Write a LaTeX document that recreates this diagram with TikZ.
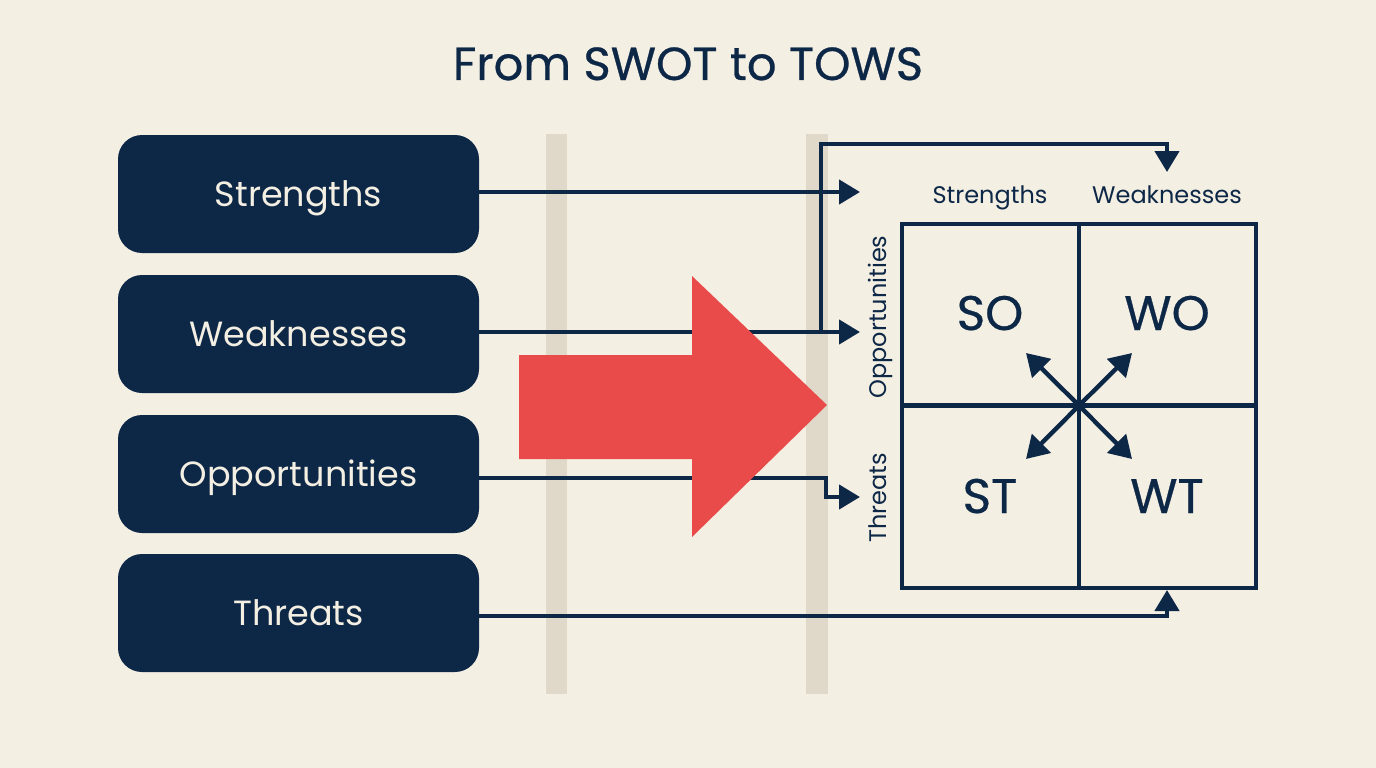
\documentclass[tikz,border=0pt]{standalone}
\usepackage{fontspec}
\setmainfont{Poppins}
\newfontfamily\heavier{Poppins}[FakeBold=0.6]
\usetikzlibrary{arrows.meta}
\definecolor{navy}{HTML}{0D2747}
\definecolor{paper}{HTML}{F4EFE3}
\definecolor{barc}{HTML}{E0D9C9}
\definecolor{redc}{HTML}{E94B4B}
\tikzset{
  x=1pt,y=-1pt,
  swotbox/.style={fill=navy,rounded corners=24pt,minimum width=361pt,minimum height=118pt,inner sep=0pt},
  boxlabel/.style={anchor=base,text=paper,inner sep=0pt,font=\fontsize{35}{38}\selectfont},
  band/.style={fill=barc,draw=none},
  link/.style={draw=navy,line width=4.4pt,-{Triangle[length=21pt,width=24pt]}},
  diag/.style={draw=navy,line width=4.4pt,-{Triangle[length=22pt,width=26pt]}},
  gridline/.style={draw=navy,line width=4.4pt},
  head/.style={anchor=base,text=navy,inner sep=0pt,font=\fontsize{24}{26}\selectfont},
  cell/.style={anchor=base,text=navy,inner sep=0pt,font=\heavier\fontsize{48.5}{52}\selectfont},
}
\begin{document}
\begin{tikzpicture}
\useasboundingbox (0,0) rectangle (1376,768);
\fill[paper] (0,0) rectangle (1376,768);
\fill[band] (546,134) rectangle (567,694);
\fill[band] (806,134) rectangle (828,694);
\node[anchor=base,text=navy,inner sep=0pt,font=\heavier\fontsize{46.4}{50}\selectfont] (title) at (688,80) {From SWOT to TOWS};
\node[swotbox] (s) at (298.5,194) {};
\node[swotbox] (w) at (298.5,334) {};
\node[swotbox] (o) at (298.5,474) {};
\node[swotbox] (t) at (298.5,613) {};
\node[boxlabel] (sl) at (298.5,206) {Strengths};
\node[boxlabel] (wl) at (298.5,346) {Weaknesses};
\node[boxlabel] (ol) at (298.5,486) {Opportunities};
\node[boxlabel] (tl) at (298.5,625) {Threats};
\coordinate (tipS) at (860,192);
\coordinate (tipW) at (860,332);
\coordinate (tipO) at (860,497);
\coordinate (tipWk) at (1167,172);
\coordinate (tipT) at (1167,590);
\coordinate (bend) at (821,332);
\draw[link] (s.east |- tipS) -- (tipS);
\draw[link] (w.east |- tipW) -- (tipW);
\draw[link] (bend) -- (821,144) -- (1167,144) -- (tipWk);
\draw[link] (o.east |- 0,478) -- (826,478) -- (826,497) -- (tipO);
\draw[link] (t.east |- 0,616) -- (1167,616) -- (tipT);
\fill[redc] (519,355) -- (692,355) -- (692,276) -- (827,405) -- (692,537) -- (692,459) -- (519,459) -- cycle;
\draw[gridline] (902,224) rectangle (1256,588);
\coordinate (c) at (1079,405.5);
\draw[gridline] (1079,224) -- (1079,588);
\draw[gridline] (902,405.5) -- (1256,405.5);
\coordinate (nw) at (1026,353);
\coordinate (ne) at (1132,353);
\coordinate (sw) at (1026,459);
\coordinate (se) at (1132,459);
\draw[diag] (c) -- (nw);
\draw[diag] (c) -- (ne);
\draw[diag] (c) -- (sw);
\draw[diag] (c) -- (se);
\node[head] (hs) at (990,203) {Strengths};
\node[head] (hw) at (1167,203) {Weaknesses};
\node[head,rotate=90] (ho) at (886,317) {Opportunities};
\node[head,rotate=90] (ht) at (886,498) {Threats};
\node[cell] (so) at (990,330) {SO};
\node[cell] (wo) at (1167,330) {WO};
\node[cell] (st) at (990,513) {ST};
\node[cell] (wt) at (1167,513) {WT};
\end{tikzpicture}
\end{document}
